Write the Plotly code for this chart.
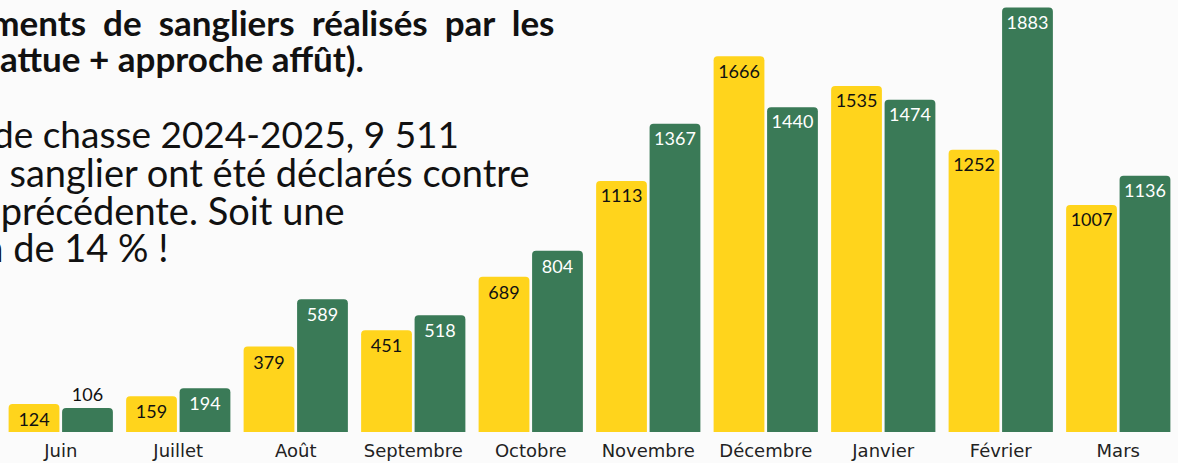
import plotly.graph_objects as go

months = ["Juin", "Juillet", "Août", "Septembre", "Octobre", "Novembre",
          "Décembre", "Janvier", "Février", "Mars"]
season_2023_2024 = [124, 159, 379, 451, 689, 1113, 1666, 1535, 1252, 1007]
season_2024_2025 = [106, 194, 589, 518, 804, 1367, 1440, 1474, 1883, 1136]

NB = "\u00a0"
title_lines = [
    (" " + NB).join("Prélèvements de sangliers réalisés par les".split(" ")),
    "chasseurs (battue + approche affût).",
]
text_lines = ["Pour la saison" + NB * 2 + " de chasse 2024-2025, 9 511",
              "prélèvements de" + NB * 3 + " sanglier ont été déclarés contre",
              "8 375 la saison" + NB * 3 + " précédente. Soit une",
              "augmentation de 14 % !"]
text_sizes = [37, 38, 38, 38]

YELLOW = "#FFD41C"
GREEN = "#3A7A57"
BG = "#FBFBFB"
LABEL_FONT = "Lato"
TICK_FONT = "DejaVu Sans"
TEXT_FONT = "Lato"

W, H = 1178, 463
ML, MR, MT, MB = 2, 1, 0, 31
PW = W - ML - MR
PH = H - MT - MB


def px(x):
    return (x - ML) / PW


def py(y):
    return (H - MB - y) / PH


fig = go.Figure()
fig.add_trace(go.Bar(
    x=months, y=season_2023_2024, name="2023-2024",
    marker=dict(color=YELLOW, line=dict(width=0)),
    text=[str(v) for v in season_2023_2024],
    textposition="inside", insidetextanchor="end",
    textfont=dict(family=LABEL_FONT, size=18, color="#111111"),
    cliponaxis=False,
))
green_pos = ["outside" if v < 150 else "inside" for v in season_2024_2025]
fig.add_trace(go.Bar(
    x=months, y=season_2024_2025, name="2024-2025",
    marker=dict(color=GREEN, line=dict(width=0)),
    text=[str(v) for v in season_2024_2025],
    textposition=green_pos, insidetextanchor="end",
    insidetextfont=dict(family=LABEL_FONT, size=18, color="#FFFFFF"),
    outsidetextfont=dict(family=LABEL_FONT, size=18, color="#111111"),
    cliponaxis=False,
))

annotations = []
title_right = [556, 366]
title_y = [22, 58]
for t, xr, yc in zip(title_lines, title_right, title_y):
    annotations.append(dict(
        text="<b>" + t + "</b>", xref="paper", yref="paper",
        x=px(xr), y=py(yc), xanchor="right", yanchor="middle",
        showarrow=False, font=dict(family=TEXT_FONT, size=35, color="#111111"),
    ))
text_right = [461, 531, 347, 171]
text_y = [133, 172, 210, 247]
for t, xr, yc, sz in zip(text_lines, text_right, text_y, text_sizes):
    annotations.append(dict(
        text=t, xref="paper", yref="paper",
        x=px(xr), y=py(yc), xanchor="right", yanchor="middle",
        showarrow=False, font=dict(family=TEXT_FONT, size=sz, color="#111111"),
    ))

fig.update_layout(
    width=W, height=H,
    margin=dict(l=ML, r=MR, t=MT, b=MB),
    paper_bgcolor=BG, plot_bgcolor=BG,
    barmode="group", bargap=0.09, bargroupgap=0.05,
    barcornerradius=4,
    showlegend=False,
    xaxis=dict(showgrid=False, showline=False, zeroline=False, ticks="",
               ticklabelstandoff=6,
               tickfont=dict(family=TICK_FONT, size=18, color="#222222")),
    yaxis=dict(visible=False, range=[0, 1916], showgrid=False, zeroline=False),
    annotations=annotations,
)

fig.write_html("out.html",
               config={"displayModeBar": False},
               post_script="document.body.style.margin='0';"
                           "document.body.style.overflow='hidden';")
